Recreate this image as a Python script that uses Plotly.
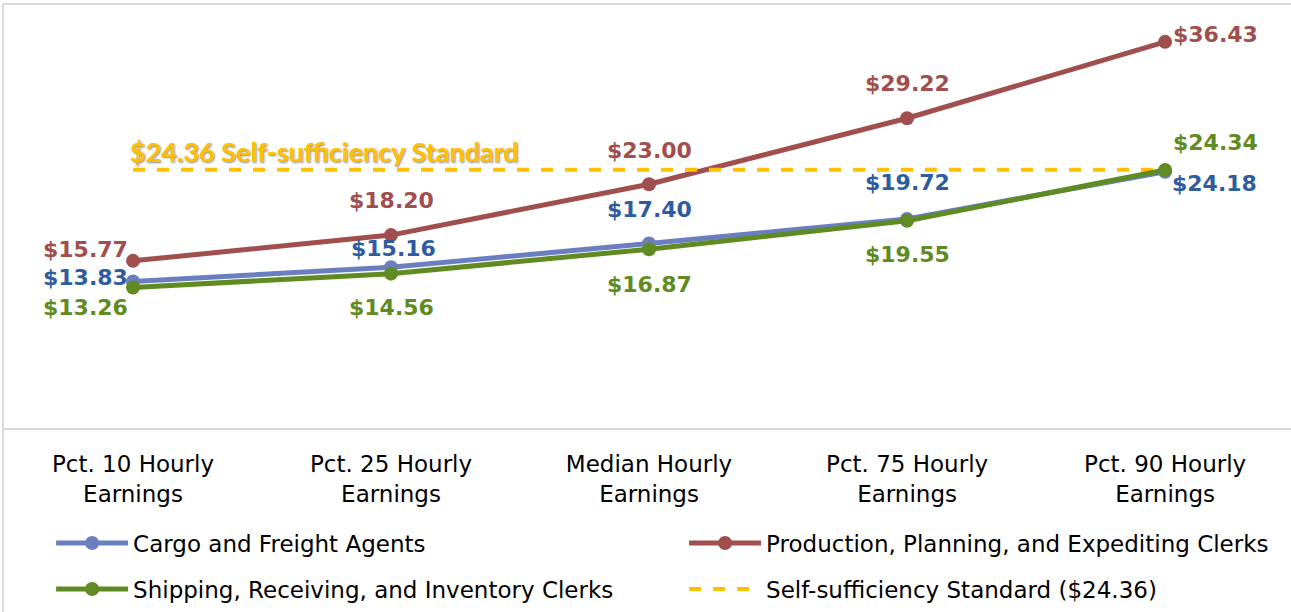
import plotly.graph_objects as go

categories = ["Pct. 10 Hourly<br>Earnings", "Pct. 25 Hourly<br>Earnings", "Median Hourly<br>Earnings",
              "Pct. 75 Hourly<br>Earnings", "Pct. 90 Hourly<br>Earnings"]
cargo = [13.83, 15.16, 17.40, 19.72, 24.18]
production = [15.77, 18.20, 23.00, 29.22, 36.43]
shipping = [13.26, 14.56, 16.87, 19.55, 24.34]
self_suff = [24.36, 24.36, 24.36, 24.36, 24.36]

names = ["Cargo and Freight Agents", "Production, Planning, and Expediting Clerks",
         "Shipping, Receiving, and Inventory Clerks", "Self-sufficiency Standard ($24.36)"]

C_CARGO_LINE = "#6B7FC0"
C_CARGO_TXT = "#2F5C9E"
C_PROD = "#A04F4E"
C_SHIP = "#5F8B22"
C_SELF = "#FFC000"

FONT = "DejaVu Sans"

fig = go.Figure()
fig.add_trace(go.Scatter(x=categories, y=cargo, name=names[0], mode="lines+markers",
                         line=dict(color=C_CARGO_LINE, width=5), marker=dict(size=14, color=C_CARGO_LINE),
                         legend="legend"))
fig.add_trace(go.Scatter(x=categories, y=production, name=names[1], mode="lines+markers",
                         line=dict(color=C_PROD, width=5), marker=dict(size=14, color=C_PROD),
                         legend="legend"))
fig.add_trace(go.Scatter(x=categories, y=self_suff, name=names[3], mode="lines",
                         line=dict(color=C_SELF, width=4, dash="dash"),
                         legend="legend2", legendrank=2))
fig.add_trace(go.Scatter(x=categories, y=shipping, name=names[2], mode="lines+markers",
                         line=dict(color=C_SHIP, width=5), marker=dict(size=14, color=C_SHIP),
                         legend="legend2", legendrank=1))

# label offsets (style only)
prod_off = [(-48, 11), (0, 35), (0, 34), (0, 35), (50, 7)]
cargo_off = [(-48, 4), (2, 19), (0, 34), (0, 36), (49, -12)]
ship_off = [(-48, -20), (0, -34), (0, -35), (0, -34), (50, 28)]

annots = []
for vals, offs, col in [(production, prod_off, C_PROD), (cargo, cargo_off, C_CARGO_TXT), (shipping, ship_off, C_SHIP)]:
    for c, v, (dx, dy) in zip(categories, vals, offs):
        annots.append(dict(x=c, y=v, xref="x", yref="y", text=f"${v:.2f}", showarrow=False,
                           xshift=dx, yshift=dy, font=dict(family=FONT, size=22, color=col, weight="bold")))

annots.append(dict(x=categories[0], y=self_suff[0], xref="x", yref="y", xanchor="left",
                   text=f"${self_suff[0]:.2f} Self-sufficiency Standard", showarrow=False,
                   xshift=-5, yshift=18,
                   font=dict(family="Lato", size=27, color=C_SELF, weight="bold",
                             shadow="1px 1px 2px #8a8a8a")))

legend_common = dict(orientation="h", xanchor="left", yanchor="middle", yref="container", itemwidth=72,
                     entrywidth=546, entrywidthmode="pixels", bgcolor="rgba(0,0,0,0)",
                     font=dict(family=FONT, size=23, color="#000000"), itemclick=False)

fig.update_layout(
    width=1291, height=612,
    margin=dict(l=4, r=0, t=4, b=184, autoexpand=False),
    paper_bgcolor="white", plot_bgcolor="white",
    showlegend=True,
    xaxis=dict(range=[-0.5, 4.488], showgrid=False, zeroline=False, showline=True,
               linecolor="#D9D9D9", linewidth=2, ticks="", ticklabelstandoff=14,
               tickfont=dict(family=FONT, size=23, color="#000000")),
    yaxis=dict(range=[0, 40], showgrid=False, zeroline=False, showline=False,
               showticklabels=False, ticks=""),
    legend=dict(x=0.0366, y=1 - 543 / 612, **legend_common),
    legend2=dict(x=0.0366, y=1 - 589 / 612, traceorder="normal", **legend_common),
    annotations=annots,
    shapes=[
        dict(type="line", xref="paper", yref="paper", x0=-0.0008, x1=-0.0008, y0=-0.45, y1=1.0,
             line=dict(color="#D9D9D9", width=2)),
        dict(type="line", xref="paper", yref="paper", x0=-0.0008, x1=1.0, y0=1.0, y1=1.0,
             line=dict(color="#D9D9D9", width=2)),
    ],
)

fig.write_html("out.html")
